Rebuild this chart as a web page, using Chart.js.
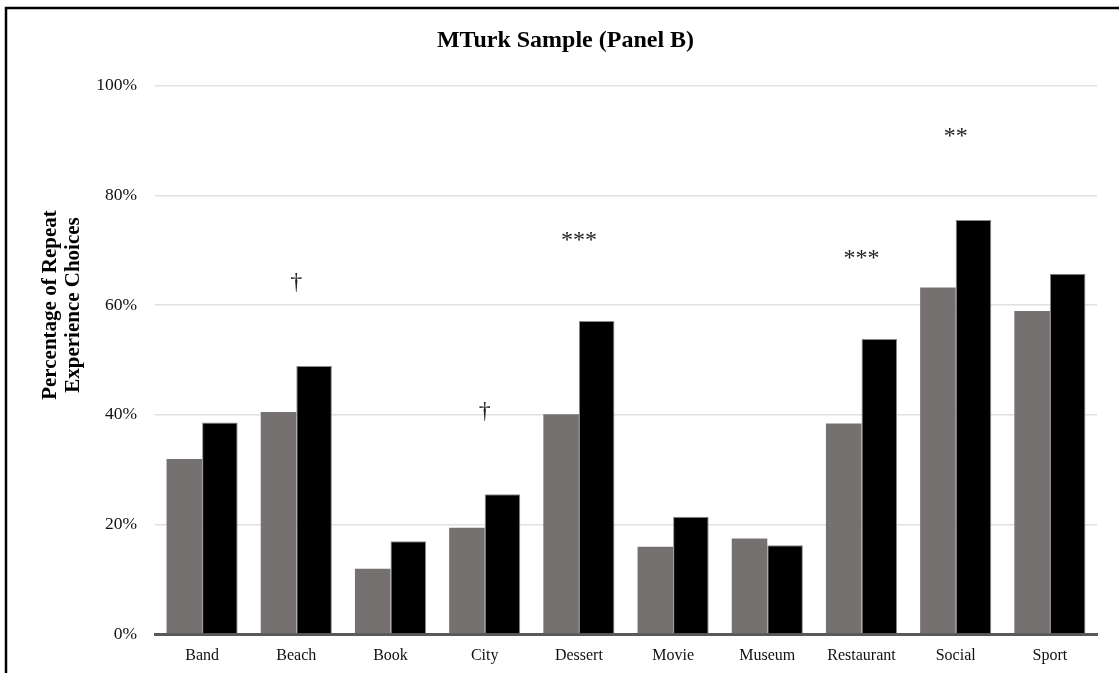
<!DOCTYPE html>
<html lang="en">
<head>
    <meta charset="UTF-8">
    <title>MTurk Sample (Panel B)</title>
    <script src="https://cdn.jsdelivr.net/npm/chart.js"></script>
    <style>
        html, body { margin: 0; padding: 0; background: #fff; }
        #wrap { width: 1119px; height: 673px; }
    </style>
</head>
<body>
    <div id="wrap"><canvas id="myChart" width="1119" height="673"></canvas></div>
    <script>
        // data
        const categories = ['Band', 'Beach', 'Book', 'City', 'Dessert', 'Movie', 'Museum', 'Restaurant', 'Social', 'Sport'];
        const grayValues = [31.9, 40.5, 11.9, 19.4, 40.1, 15.9, 17.4, 38.4, 63.2, 58.9];
        const blackValues = [38.6, 48.9, 16.9, 25.5, 57.1, 21.4, 16.2, 53.8, 75.5, 65.7];
        const sigMarks = ['', '\u2020', '', '\u2020', '***', '', '', '***', '**', ''];
        const sigLevels = [null, 64, null, 40.5, 72.4, null, null, 69.1, 91.4, null];
        const yTicks = [0, 20, 40, 60, 80, 100];

        const serif = "'Liberation Serif', 'Times New Roman', serif";

        // frame lines, axis title and significance marks
        const extras = {
            id: 'extras',
            beforeDraw(chart) {
                const ctx = chart.ctx;
                ctx.save();
                ctx.fillStyle = '#fff';
                ctx.fillRect(0, 0, chart.width, chart.height);
                ctx.strokeStyle = '#000';
                ctx.lineWidth = 2.5;
                ctx.beginPath();
                ctx.moveTo(chart.width, 8);
                ctx.lineTo(6, 8);
                ctx.lineTo(6, chart.height);
                ctx.stroke();
                ctx.restore();
            },
            afterDraw(chart) {
                const ctx = chart.ctx;
                const x = chart.scales.x, y = chart.scales.y;
                ctx.save();
                // y axis title
                ctx.translate(63, 305);
                ctx.rotate(-Math.PI / 2);
                ctx.fillStyle = '#000';
                ctx.font = 'bold 21px ' + serif;
                ctx.textAlign = 'center';
                ctx.textBaseline = 'middle';
                ctx.fillText('Percentage of Repeat', 0, -12);
                ctx.fillText('Experience Choices', 0, 11);
                ctx.restore();

                ctx.save();
                ctx.fillStyle = '#222';
                ctx.font = '24px ' + serif;
                ctx.textAlign = 'center';
                ctx.textBaseline = 'middle';
                sigMarks.forEach((m, i) => {
                    if (!m) return;
                    const px = x.getPixelForValue(i);
                    const py = y.getPixelForValue(sigLevels[i]);
                    if (m.indexOf('*') >= 0) {
                        // spaced asterisks
                        const step = 12;
                        const start = px - (m.length - 1) * step / 2;
                        for (let k = 0; k < m.length; k++) {
                            ctx.fillText('*', start + k * step, py + 4);
                        }
                    } else {
                        ctx.fillText(m, px, py);
                    }
                });
                ctx.restore();
            }
        };

        const ctx = document.getElementById('myChart').getContext('2d');
        new Chart(ctx, {
            type: 'bar',
            data: {
                labels: categories,
                datasets: [{
                    label: 'Series 1',
                    data: grayValues,
                    backgroundColor: '#767171',
                    borderWidth: 0
                }, {
                    label: 'Series 2',
                    data: blackValues,
                    backgroundColor: '#000000',
                    borderColor: '#8a8a8a',
                    borderWidth: 1
                }]
            },
            options: {
                responsive: false,
                animation: false,
                categoryPercentage: 0.755,
                barPercentage: 1.0,
                layout: {
                    padding: { left: 34, right: 22, top: 0, bottom: 0 }
                },
                plugins: {
                    legend: { display: false },
                    tooltip: { enabled: false },
                    title: {
                        display: true,
                        text: 'MTurk Sample (Panel B)',
                        color: '#000',
                        font: { family: serif, size: 24, weight: 'bold' },
                        padding: { top: 26, bottom: 31 }
                    }
                },
                scales: {
                    x: {
                        grid: { display: false },
                        border: { display: true, color: '#595959', width: 3 },
                        ticks: {
                            color: '#111',
                            font: { family: serif, size: 16 },
                            padding: 4,
                            maxRotation: 0
                        },
                        afterFit(scale) { scale.height = 39; }
                    },
                    y: {
                        min: 0,
                        max: 100,
                        afterBuildTicks(scale) {
                            scale.ticks = yTicks.map(v => ({ value: v }));
                        },
                        grid: { color: '#e0e0e0', lineWidth: 1.5, drawTicks: false },
                        border: { display: false },
                        ticks: {
                            color: '#111',
                            font: { family: serif, size: 17.5 },
                            padding: 18,
                            callback: v => v + '%'
                        },
                        afterFit(scale) { scale.width = 121; }
                    }
                }
            },
            plugins: [extras]
        });
    </script>
</body>
</html>
